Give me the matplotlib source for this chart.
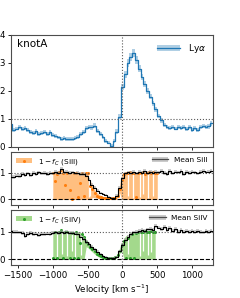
import numpy as np
import matplotlib
matplotlib.use("Agg")
import matplotlib.pyplot as plt
from matplotlib.patches import Patch
from matplotlib.lines import Line2D

# ---------------- data ----------------
vel = np.arange(-1600, 1281, 40)  # km/s grid of spectra

lya_flux = [0.82, 0.62, 0.66, 0.70, 0.64, 0.68, 0.60, 0.55, 0.50, 0.56,
            0.46, 0.50, 0.54, 0.46, 0.52, 0.44, 0.38, 0.34, 0.30, 0.33,
            0.28, 0.30, 0.29, 0.33, 0.37, 0.45, 0.52, 0.68, 0.72, 0.70,
            0.76, 0.58, 0.45, 0.34, 0.22, 0.16, 0.05, 0.22, 0.55, 1.08,
            2.15, 2.60, 3.00, 3.20, 3.35, 3.10, 2.80, 2.50, 2.25, 2.00,
            1.80, 1.56, 1.35, 1.10, 0.95, 0.80, 0.72, 0.68, 0.72, 0.66,
            0.70, 0.68, 0.72, 0.65, 0.70, 0.62, 0.68, 0.60, 0.70, 0.75,
            0.72, 0.74, 0.85]
lya_err = [0.07, 0.07, 0.07, 0.07, 0.07, 0.07, 0.07, 0.07, 0.07, 0.07,
           0.07, 0.07, 0.07, 0.07, 0.07, 0.07, 0.07, 0.07, 0.07, 0.07,
           0.07, 0.07, 0.07, 0.07, 0.07, 0.07, 0.07, 0.08, 0.08, 0.08,
           0.08, 0.07, 0.07, 0.07, 0.07, 0.07, 0.07, 0.07, 0.08, 0.09,
           0.11, 0.12, 0.13, 0.14, 0.15, 0.14, 0.13, 0.12, 0.11, 0.10,
           0.10, 0.09, 0.09, 0.08, 0.08, 0.07, 0.07, 0.07, 0.07, 0.07,
           0.07, 0.07, 0.07, 0.07, 0.07, 0.07, 0.07, 0.07, 0.07, 0.07,
           0.07, 0.08, 0.09]

mean_siII = [0.86, 0.85, 0.90, 0.88, 0.95, 0.92, 0.98, 0.93, 1.00, 0.97,
             1.02, 0.98, 1.00, 0.97, 1.01, 0.98, 1.05, 1.00, 1.15, 1.02,
             1.05, 0.99, 1.02, 0.98, 1.00, 0.97, 0.95, 0.90, 0.75, 0.55,
             0.45, 0.33, 0.26, 0.20, 0.16, 0.10, 0.05, 0.04, 0.15, 0.45,
             0.80, 0.98, 1.02, 1.00, 1.04, 0.98, 1.05, 1.00, 1.06, 0.99,
             1.03, 1.00, 1.05, 1.02, 1.08, 1.00, 0.95, 1.06, 0.98, 1.05,
             1.02, 1.08, 0.97, 1.04, 1.00, 1.05, 1.02, 0.98, 1.04, 1.06,
             1.02, 1.05, 1.08]
mean_siIV = [1.03, 0.98, 1.00, 0.97, 0.95, 0.85, 0.92, 0.96, 0.90, 0.93,
             0.88, 0.92, 0.90, 0.93, 0.90, 0.94, 0.97, 0.95, 1.00, 0.96,
             0.98, 0.94, 0.96, 0.93, 0.90, 0.82, 0.72, 0.62, 0.55, 0.45,
             0.35, 0.27, 0.18, 0.11, 0.07, 0.05, 0.04, 0.04, 0.08, 0.28,
             0.52, 0.70, 0.82, 0.90, 0.97, 1.00, 1.03, 1.05, 1.02, 1.08,
             1.10, 1.06, 1.22, 1.15, 1.10, 1.18, 1.05, 1.12, 1.02, 1.10,
             1.00, 1.05, 0.98, 1.03, 1.00, 1.04, 0.98, 1.02, 1.00, 0.97,
             1.03, 0.99, 1.02]
mean_err = [0.07, 0.07, 0.07, 0.07, 0.07, 0.07, 0.07, 0.07, 0.07, 0.07,
            0.07, 0.07, 0.07, 0.07, 0.07, 0.07, 0.07, 0.07, 0.07, 0.07,
            0.07, 0.07, 0.07, 0.07, 0.07, 0.07, 0.07, 0.07, 0.06, 0.06,
            0.05, 0.05, 0.04, 0.04, 0.03, 0.03, 0.03, 0.03, 0.04, 0.05,
            0.06, 0.07, 0.07, 0.07, 0.07, 0.07, 0.07, 0.07, 0.07, 0.07,
            0.07, 0.07, 0.07, 0.07, 0.07, 0.07, 0.07, 0.07, 0.07, 0.07,
            0.07, 0.07, 0.07, 0.07, 0.07, 0.07, 0.07, 0.07, 0.07, 0.07,
            0.07, 0.07, 0.07]

# covering fraction results: 1 - f_C credible band (lo..hi) and median
v_siII = np.arange(-1000, 501, 30)
siII_hi = [1.00, 1.02, 1.03, 1.04, 1.02, 1.00, 1.00, 1.02, 1.00, 1.00,
           1.01, 1.00, 0.98, 1.00, 1.00, 1.00, 0.98, 0.95, 0.70, 0.48,
           0.36, 0.26, 0.20, 0.15, 0.12, 0.10, 0.08, 0.08, 0.07, 0.07,
           0.10, 0.22, 0.55, 0.97, 1.00, 1.02, 1.00, 1.00, 1.00, 1.02,
           1.02, 1.00, 1.00, 1.03, 1.00, 1.02, 1.02, 1.00, 1.01, 1.02,
           1.00]
siII_lo = [0.00, 0.00, 0.00, 0.00, 0.00, 0.00, 0.00, 0.00, 0.00, 0.00,
           0.00, 0.00, 0.00, 0.00, 0.00, 0.00, 0.00, 0.00, 0.00, 0.08,
           0.07, 0.05, 0.04, 0.03, 0.03, 0.02, 0.02, 0.02, 0.01, 0.01,
           0.02, 0.06, 0.25, 0.00, 0.00, 0.00, 0.00, 0.00, 0.00, 0.00,
           0.00, 0.00, 0.00, 0.00, 0.00, 0.00, 0.00, 0.00, 0.00, 0.00,
           0.00]
siII_med = [1.00, 0.71, 0.95, 1.05, 1.10, 0.98, 0.53, 1.00, 0.35, 0.00,
            1.00, 0.98, 0.09, 0.62, 1.00, 0.15, 0.98, 1.00, 0.50, 0.40,
            0.25, 0.15, 0.10, 0.08, 0.06, 0.05, 0.05, 0.04, 0.04, 0.04,
            0.06, 0.15, 0.40, 0.75, 0.95, 1.00, 1.00, 1.02, 0.98, 1.00,
            0.10, 1.00, 0.98, 1.02, 0.95, 1.00, 1.03, 1.00, 1.02, 1.00,
            1.00]
# narrow velocity bins where the upper bound drops (gaps in the band)
siII_gap_v = [-485, -470, 80, 153, 248, 291, 363, 439]
siII_gap_top = [0.10, 0.15, 0.15, 0.05, 0.10, 0.20, 0.05, 0.15]

v_siIV = np.arange(-1000, 471, 30)
siIV_hi = [0.98, 1.00, 0.99, 0.98, 1.02, 1.00, 1.00, 0.98, 1.00, 1.00,
           0.97, 1.00, 0.99, 0.98, 0.95, 0.85, 0.70, 0.62, 0.52, 0.42,
           0.34, 0.27, 0.20, 0.15, 0.11, 0.09, 0.07, 0.06, 0.06, 0.06,
           0.10, 0.22, 0.40, 0.60, 0.75, 0.85, 0.90, 0.95, 0.97, 0.98,
           1.00, 1.00, 1.00, 1.02, 1.00, 1.00, 1.00, 1.00, 0.98, 0.97]
siIV_lo = [0.00, 0.00, 0.00, 0.00, 0.00, 0.00, 0.00, 0.00, 0.00, 0.00,
           0.00, 0.00, 0.00, 0.00, 0.00, 0.00, 0.45, 0.40, 0.32, 0.25,
           0.18, 0.12, 0.07, 0.04, 0.03, 0.02, 0.02, 0.01, 0.01, 0.01,
           0.02, 0.08, 0.20, 0.35, 0.00, 0.00, 0.00, 0.00, 0.00, 0.00,
           0.00, 0.00, 0.00, 0.00, 0.00, 0.00, 0.00, 0.00, 0.00, 0.00]
siIV_med = [0.05, 0.98, 0.05, 0.97, 1.05, 0.02, 0.98, 1.00, 0.03, 0.95,
            0.05, 0.97, 0.02, 0.57, 0.92, 0.80, 0.62, 0.55, 0.45, 0.36,
            0.28, 0.20, 0.14, 0.10, 0.07, 0.05, 0.04, 0.04, 0.03, 0.04,
            0.06, 0.15, 0.30, 0.50, 0.65, 0.05, 0.78, 0.03, 0.90, 0.05,
            0.96, 1.00, 0.98, 1.00, 1.02, 0.98, 1.00, 1.01, 0.99, 1.00]
siIV_gap_v = [-946, -874, -803, -731, -683, -588, 80, 248, 296, 363, 410]
siIV_gap_top = [0.05, 0.20, 0.10, 0.30, 0.05, 0.15, 0.20, 0.10, 0.30, 0.15,
                0.25]

xticks = [-1500, -1000, -500, 0, 500, 1000]

# ---------------- figure ----------------
plt.rcParams['font.family'] = ['DejaVu Sans']
fig = plt.figure(figsize=(2.40, 2.98), dpi=100)
L, W = 11 / 240, 202 / 240
ax1 = fig.add_axes([L, 1 - 147 / 298, W, 112 / 298])
ax2 = fig.add_axes([L, 1 - 204.8 / 298, W, 53.1 / 298])
ax3 = fig.add_axes([L, 1 - 264.5 / 298, W, 54.8 / 298])

tickfs = 6.2
for ax in (ax1, ax2, ax3):
    ax.set_xlim(-1600, 1300)
    ax.set_xticks(xticks)
    ax.tick_params(labelsize=tickfs, length=2.5, width=0.6, pad=2)
    ax.axvline(0, color='0.35', ls=':', lw=0.8, zorder=3)
    ax.axhline(1, color='0.35', ls=':', lw=0.8, zorder=3)
    for s in ax.spines.values():
        s.set_color('0.3')
        s.set_linewidth(0.8)

# top panel: Ly alpha
lya_flux = np.array(lya_flux)
lya_err = np.array(lya_err)
ax1.fill_between(vel, lya_flux - lya_err, lya_flux + lya_err, step='mid',
                 color='#1f77b4', alpha=0.35, lw=0)
ax1.plot(vel, lya_flux, drawstyle='steps-mid', color='#1f77b4', lw=0.9)
ax1.set_ylim(0, 4)
ax1.set_yticks([0, 1, 2, 3, 4])
ax1.tick_params(labelbottom=False)
ax1.text(0.03, 0.96, 'knotA', transform=ax1.transAxes, va='top', ha='left',
         fontsize=7.5)
h_lya = (Patch(color='#1f77b4', alpha=0.35, lw=0),
         Line2D([], [], color='#1f77b4', lw=0.9))
ax1.legend([h_lya], [r'Ly$\alpha$'], loc='upper right', frameon=False,
           fontsize=6.5, handlelength=2.6, borderaxespad=0.4)


def ion_panel(ax, v_fc, hi, lo, med, gap_v, gap_top, mean, color,
              fillcolor, ion):
    mean = np.array(mean)
    err = np.array(mean_err)
    ax.fill_between(v_fc, lo, hi, color=fillcolor, lw=0, zorder=1)
    ax.vlines(gap_v, gap_top, 1.06, color='white', lw=0.9, zorder=1.5)
    ax.plot(v_fc, med, 'o', color=color, ms=2.2, mew=0, zorder=2)
    ax.fill_between(vel, mean - err, mean + err, step='mid', color='0.6',
                    alpha=0.5, lw=0, zorder=2.5)
    ax.plot(vel, mean, drawstyle='steps-mid', color='k', lw=0.8, zorder=4)
    ax.axhline(0, color='k', ls='--', lw=0.8, zorder=3)
    ax.set_ylim(-0.2, 1.8)
    ax.set_yticks([0, 1])
    h1 = (Patch(color=fillcolor, lw=0),
          Line2D([], [], marker='o', color=color, ms=2.2, mew=0, ls='none'))
    leg1 = ax.legend([h1], [r'$1-f_C$ (%s)' % ion], loc='upper left',
                     frameon=False, fontsize=5.3, handlelength=2.2,
                     borderaxespad=0.3)
    ax.add_artist(leg1)
    h2 = (Patch(color='0.6', alpha=0.5, lw=0),
          Line2D([], [], color='0.3', lw=0.9))
    ax.legend([h2], ['Mean %s' % ion], loc='upper right', frameon=False,
              fontsize=5.3, handlelength=2.2, borderaxespad=0.3)


ion_panel(ax2, v_siII, siII_hi, siII_lo, siII_med, siII_gap_v, siII_gap_top,
          mean_siII, '#ff7f0e', '#ffbf80', 'SiII')
ax2.tick_params(labelbottom=False)
ion_panel(ax3, v_siIV, siIV_hi, siIV_lo, siIV_med, siIV_gap_v, siIV_gap_top,
          mean_siIV, '#2ca02c', '#a3d98c', 'SiIV')
ax3.set_xlabel(r'Velocity [km s$^{-1}$]', fontsize=tickfs, labelpad=2)

fig.savefig('out.png', dpi=100)
